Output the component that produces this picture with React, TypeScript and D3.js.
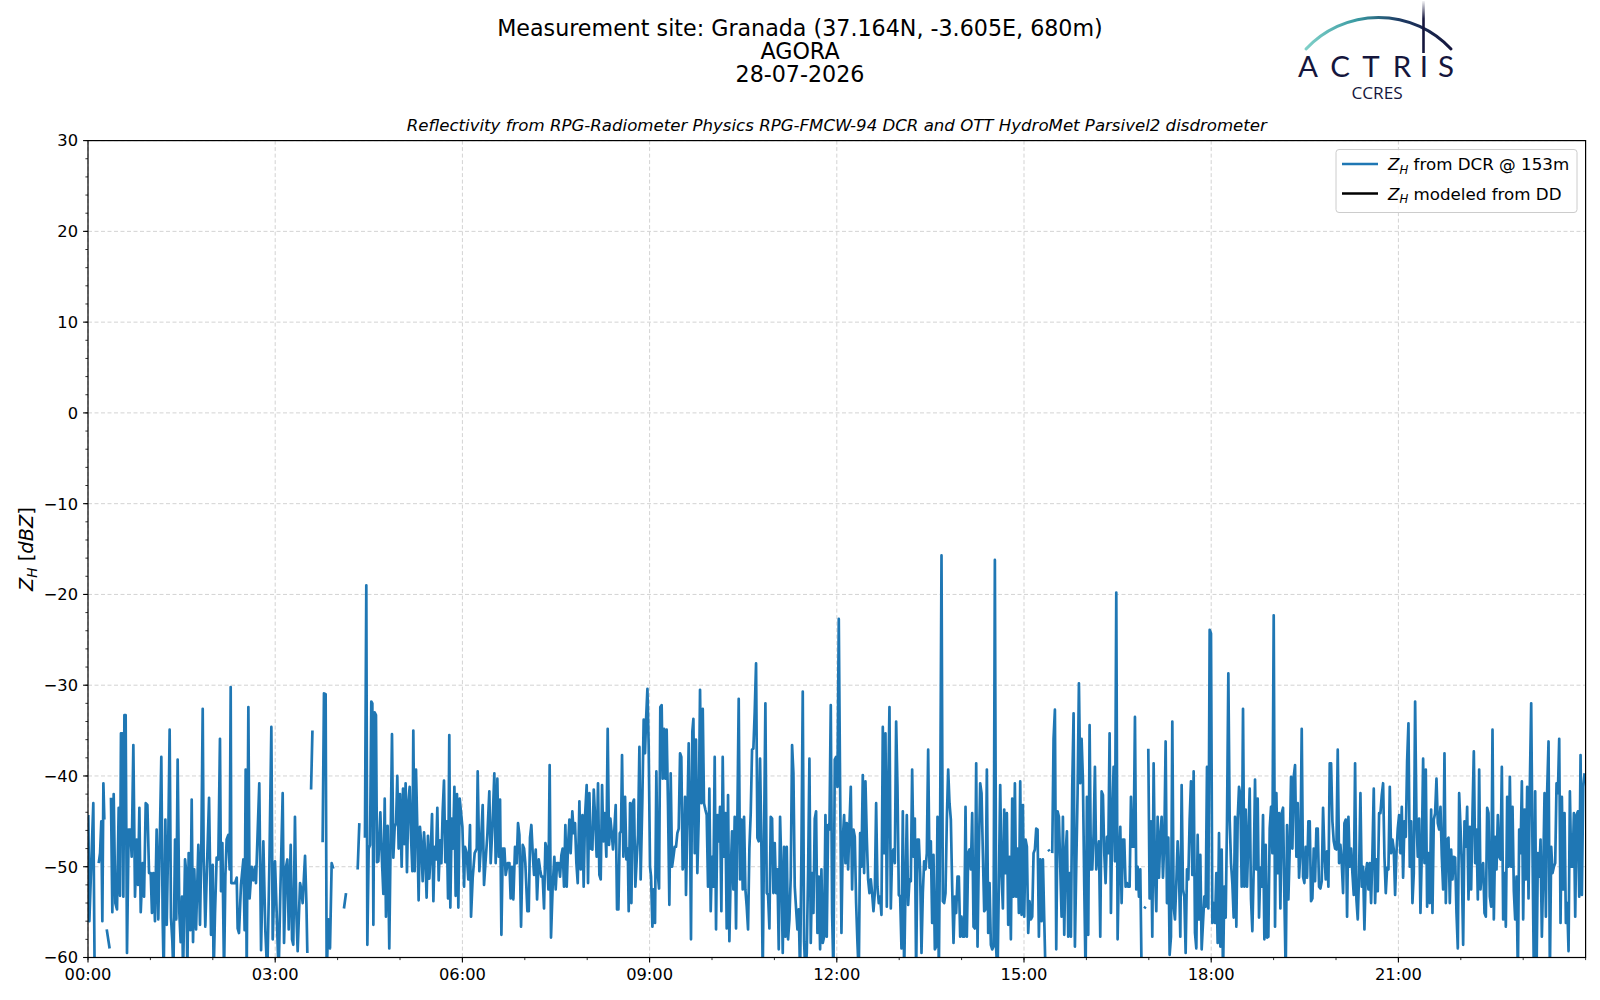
import React from "react";
import * as d3 from "d3";

// ---------- text ----------
const suptitleLines = [
  "Measurement site: Granada (37.164N, -3.605E, 680m)",
  "AGORA",
  "28-07-2026",
];
const subtitle =
  "Reflectivity from RPG-Radiometer Physics RPG-FMCW-94 DCR and OTT HydroMet Parsivel2 disdrometer";
const legendLabels = ["from DCR @ 153m", "modeled from DD"];
const legendColors = ["#1f77b4", "#000000"];

// ---------- axes ----------
const yDomain = [-60, 30];
const yMajorTicks = [-60, -50, -40, -30, -20, -10, 0, 10, 20, 30];
const yMinorTicks = d3.range(-60, 31, 2);
const xDomainMinutes = [0, 1440];
const xMajorTicks = [0, 180, 360, 540, 720, 900, 1080, 1260];
const xMajorLabels = ["00:00", "03:00", "06:00", "09:00", "12:00", "15:00", "18:00", "21:00"];
const xMinorTicks = d3.range(0, 1441, 60);

// ---------- data: Z_H from DCR (dBZ), night/morning part with explicit times (minutes) ----------
const dcrMinutesA = [
  0.3, 1.3, 5.1, 6.4, 8.0, 10.3, 11.6, 12.8, 13.8, 14.8, 15.7, 17.0, 18.0, 20.8, 21.4, 22.1, 23.4, 24.7, 26.3, 27.9,
  29.5, 30.8, 31.7, 33.0, 34.0, 35.0, 36.2, 37.5, 39.1, 40.7, 42.0, 43.6, 45.2, 46.8, 48.1, 49.4, 50.7, 52.6, 53.9, 55.5,
  57.1, 58.7, 60.3, 61.5, 62.8, 64.4, 66.0, 67.6, 69.2, 70.5, 71.8, 72.8, 74.4, 75.7, 77.3, 78.5, 79.8, 81.1, 82.1, 83.7,
  84.9, 86.2, 87.8, 89.1, 90.4, 91.4, 93.3, 94.6, 95.5, 96.8, 98.4, 99.7, 101.0, 102.2, 103.9, 106.1, 107.7, 109.0, 110.3, 111.2,
  112.8, 114.4, 116.4, 118.3, 119.9, 120.8, 122.1, 123.7, 125.3, 126.9, 127.9, 129.2, 130.8, 132.1, 133.3, 134.9, 136.2, 137.2, 137.8, 141.4,
  143.0, 143.9, 145.2, 147.1, 149.4, 150.6, 151.6, 152.6, 154.2, 155.4, 157.4, 159.0, 160.6, 161.5, 164.7, 166.4, 168.6, 170.5, 172.4, 174.4,
  176.3, 177.6, 179.8, 181.4, 183.3, 184.9, 187.2, 188.5, 190.4, 191.7, 193.0, 194.9, 196.2, 197.4, 199.0, 200.3, 201.6, 203.9, 205.1, 206.4,
  207.7, 208.7, 210.0, 210.9, 212.0, 214.5, 215.8, 217.0, 225.6, 226.9, 228.5, 229.5, 231.1, 232.7, 234.3, 235.9, 238.0, 246.1, 248.1, 250.0,
  259.3, 260.9, 263.0, 266.3, 267.6, 268.6, 269.9, 271.2, 272.4, 273.4, 274.4, 275.6, 276.9, 277.9, 279.2, 281.1, 282.4, 284.0, 285.3, 286.5,
  288.1, 289.7, 291.0, 292.3, 293.6, 294.9, 296.2, 297.4, 298.7, 300.0, 301.6, 302.9, 304.2, 305.4, 306.7, 308.0, 309.3, 310.6, 311.9, 312.8,
  314.1, 315.4, 316.7, 317.9, 319.2, 320.5, 321.8, 323.1, 324.4, 325.6, 326.9, 328.2, 329.5, 330.8, 332.1, 333.3, 334.6, 335.9, 337.2, 338.5,
  339.8, 341.0, 342.3, 343.6, 344.9, 346.2, 347.4, 348.4, 349.7, 351.0, 352.3, 353.5, 354.8, 356.1, 357.4,
  360.0, 361.6, 362.5, 364.1, 365.7, 367.3, 368.3, 369.9, 371.8, 373.8, 374.7, 376.3, 377.6, 379.5, 380.8, 382.4, 384.0, 385.9, 387.2, 389.1,
  390.7, 392.0, 393.6, 394.9, 396.2, 397.5, 398.8, 400.4, 401.6, 403.6, 405.2, 406.4, 407.7, 409.0, 410.6, 412.2, 413.5, 414.8, 416.4, 418.0,
  419.3, 420.5, 422.5, 423.8, 425.0, 426.3, 427.6, 428.9, 430.5, 431.8, 433.4, 434.7, 435.9, 437.2, 438.5, 439.8, 441.1, 442.7, 443.9, 445.2,
  446.8, 448.4, 449.7, 451.0, 452.6, 453.9, 455.2, 456.4, 457.7, 459.0, 460.3, 461.6, 462.9, 464.1, 465.7, 467.0, 468.3, 469.6, 470.9, 472.5,
  473.8, 475.4, 476.6, 477.9, 479.5, 480.8, 482.1, 483.4, 485.0, 486.3, 487.5, 489.1, 490.4, 491.7, 493.0, 494.3, 495.5, 496.8, 498.4, 499.7,
  501.0, 502.3, 503.6, 504.8, 506.1, 507.4, 508.7, 510.0, 511.3, 512.5, 513.5, 514.8, 516.4, 517.7, 519.0, 519.9, 521.2, 522.5, 523.7, 525.0,
  526.3, 527.6, 528.9, 530.2, 531.4, 533.0, 534.3, 535.6, 536.6, 537.9, 539.1, 540.4, 541.4, 542.7, 543.9, 545.2, 546.5, 547.8, 549.1, 550.3,
  551.6, 552.6, 553.9, 555.2, 556.4, 557.7, 559.0, 560.3, 561.6, 562.9, 564.1, 565.4, 566.7, 568.0, 569.3, 570.5, 571.8, 572.8, 574.1, 575.0,
  576.3, 577.6, 578.9, 579.8, 581.1, 582.1, 583.4, 584.6, 585.9, 587.2, 588.5, 589.8, 591.1, 592.3, 593.6,
];
const dcrDbzA: (number | null)[] = [
  -44.3, -56.0, -43.0, -62, null, -49.6, -48.5, -45.0, -56.0, -40.8, -44.8, null, -56.9, -59.0, null, -42.4, -55.0, -42.0, -54.0, -54.7,
  -43.5, -53.2, -35.3, -35.3, -53.3, -33.3, -33.3, -59.5, -45.9, -45.9, -48.9, -36.6, -53.3, -47.0, -52.0, -43.5, -55.0, -49.6, -53.3, -43.0,
  -43.2, -50.7, -50.7, -55.1, -50.7, -56.0, -45.9, -55.8, -46.0, -37.9, -55.8, -62, -44.8, -56.4, -46.0, -34.9, -55.6, -58.2, -62, -47.0,
  -55.8, -38.2, -55.0, -58.3, -53.3, -62, -49.2, -50.7, -62, -48.5, -57.0, -42.6, -58.3, -50.3, -56.9, -47.6, -56.4, -47.5, -32.6, -48.8,
  -56.6, -50.0, -42.4, -57.5, -49.8, -62, -55.2, -49.0, -49.2, -35.9, -52.7, -47.4, -62, -51.0, -47.0, -46.5, -50.3, -30.2, -51.8, -51.8,
  -51.2, -56.8, -57.3, -52.0, -49.2, -57.0, -39.3, -62, -32.4, -53.5, -50.0, -51.5, -50.0, -51.8, -40.8, -59.2, -47.2, -57.0, -62, -49.8,
  -34.6, -58.0, -49.4, -55.0, -62, -53.0, -41.9, -58.4, -50.0, -49.2, -56.9, -47.6, -58.0, -58.6, -44.5, -55.0, -59.3, -51.8, -52.5, -54.0,
  -51.0, -48.8, -54.0, -59.5, null, -41.5, -35.0, null, -47.3, -30.9, -31.0, -62, -55.8, -59.0, -49.6, -50.2, null, -54.6, -52.9, null,
  -50.3, -45.2, null, -46.8, -19.0, -58.6, -48.0, -47.6, -31.8, -32.0, -56.4, -33.0, -33.3, -49.5, -49.4, -44.0, -48.6, -53.0, -42.5, -55.5,
  -45.5, -59.0, -47.0, -35.4, -49.0, -45.6, -45.2, -40.0, -48.0, -42.0, -50.0, -41.4, -47.5, -40.8, -50.6, -43.0, -41.2, -46.7, -50.5, -35.0,
  -50.5, -39.3, -46.0, -53.7, -45.6, -47.5, -51.6, -46.2, -49.0, -53.4, -46.6, -51.3, -48.5, -44.2, -53.8, -47.8, -49.2, -43.5, -51.5, -47.1,
  -49.6, -44.0, -40.5, -49.5, -45.0, -53.5, -35.5, -54.5, -44.7, -48.0, -41.2, -53.2, -42.0, -54.5, -42.5,
  -45.6, -52.2, -47.8, -48.5, -51.4, -45.4, -55.5, -51.2, -48.5, -48.0, -39.5, -50.5, -48.1, -43.2, -52.0, -49.2, -46.5, -41.7, -49.6, -45.0,
  -39.7, -49.6, -40.3, -48.9, -42.6, -57.5, -48.0, -48.0, -50.9, -49.6, -49.6, -53.5, -50.0, -53.6, -47.8, -49.6, -45.2, -46.5, -56.6, -47.6,
  -48.0, -49.6, -54.9, -54.9, -46.8, -45.4, -48.5, -50.9, -48.1, -53.6, -49.2, -50.3, -51.1, -51.1, -54.6, -47.4, -48.0, -52.5, -38.8, -57.8,
  -52.2, -48.9, -52.5, -49.6, -49.6, -51.1, -48.7, -48.0, -52.2, -45.4, -52.2, -47.6, -44.8, -48.5, -43.9, -46.3, -45.2, -49.6, -51.8, -42.8,
  -50.3, -44.3, -52.2, -44.5, -41.0, -51.8, -41.9, -48.0, -48.1, -41.5, -44.3, -48.9, -40.8, -50.9, -51.4, -41.0, -47.2, -44.1, -48.9, -34.8,
  -47.6, -44.7, -46.3, -48.1, -45.9, -43.2, -54.7, -54.7, -46.3, -46.1, -37.7, -48.9, -42.3, -49.2, -48.0, -54.9, -43.0, -54.0, -43.0, -42.6,
  -52.2, -49.2, -46.5, -36.8, -51.4, -42.8, -33.8, -37.5, -33.8, -30.4, -36.6, -50.0, -51.1, -56.6, -52.5, -56.2, -39.5, -50.7, -52.4, -32.4,
  -32.2, -40.3, -34.8, -40.3, -34.9, -43.2, -54.2, -39.7, -50.0, -48.9, -47.8, -47.8, -46.3, -45.8, -37.5, -37.9, -50.3, -49.6, -42.3, -53.1,
  -44.7, -36.4, -45.9, -58.0, -35.1, -33.7, -48.5, -36.0, -50.7, -44.8, -30.5, -43.0, -32.6, -43.0, -43.7,
];

// ---------- data: Z_H from DCR (dBZ), rest of the day on the regular sampling grid ----------
const dcrRegularStart = 594.9; // minutes
const dcrRegularEnd = 1439.0; // minutes
const dcrDbzLateMorning: (number | null)[] = [
  -44.3, -52.2, -41.4, -54.9, -48.9, -52.2, -37.9, -56.9, -44.3, -47.2, -43.4, -54.9, -37.9, -48.9, -44.1, -56.8, -42.1, -58.2, -50.7, -46.1,
  -52.5, -44.5, -56.8, -44.5, -31.5, -51.4, -44.8, -52.5, -44.5, -52.5, -54.4, -56.9, -48.0, -44.1, -37.1, -37.0, -32.9, -27.6, -46.8, -47.2,
  -38.1, -47.8, -62, -46.7, -32.0, -52.9, -53.1, -56.8, -44.5, -44.7, -52.9, -47.4, -52.9, -50.3, -59.1, -44.5, -50.3, -59.5, -47.8, -57.7,
  -47.8, -58.0, -55.8, -51.1, -36.6, -39.7, -52.2, -54.6, -56.9, -54.7, -62, -48.5, -30.7, -58.2, -62, -59.5, -50.7, -38.1, -58.4, -50.7,
  -55.1, -44.7, -43.9, -57.3, -51.1, -59.1, -50.3, -58.4, -57.7, -44.3, -57.7, -45.4, -45.9, -32.2, -55.1, -62, -38.2, -37.9, -41.2, -22.7,
  -41.2, -57.3, -47.0, -44.3, -49.6, -45.2, -50.3, -45.4, -41.2, -52.5, -45.9, -46.7, -54.0, -58.4, -62, -46.3, -50.0, -39.9, -50.7, -40.6,
  -46.8, -51.4, -52.9, -51.4, -52.9, -54.9, -52.9, -43.0, -52.2, -54.0, -53.3, -55.3, -34.6, -48.5, -35.3, -54.4, -41.9, -32.4, -54.6, -48.5,
  -48.1, -49.6, -34.0, -41.2, -53.1,
];
const dcrDbzAfternoon: (number | null)[] = [
  -53.3, -59.0, -43.9, -62, -52.2, -44.3, -54.2, -51.4, -51.6, -39.3, -48.9, -44.7, -62, -47.0, -47.0, -50.7, -59.5, -52.9, -49.4, -50.3,
  -48.5, -37.1, -50.1, -47.2, -56.2, -48.7, -59.1, -58.8, -44.5, -62, -44.5, -15.7, -53.8, -54.0, -52.9, -44.8, -39.3, -43.0, -44.8, -52.2,
  -58.4, -53.3, -55.1, -51.1, -51.1, -57.7, -55.5, -57.7, -57.7, -43.4, -57.7, -48.5, -48.1, -50.3, -44.1, -56.6, -56.8, -38.6, -58.8, -48.5,
  -40.8, -41.9, -48.5, -54.9, -54.7, -39.3, -57.3, -51.8, -58.6, -59.1, -58.8, -16.2, -59.1, -62, -51.8, -41.0, -50.7, -54.6, -43.7, -50.7,
  -44.1, -56.4, -48.9, -58.0, -42.5, -53.3, -40.8, -53.3, -48.0, -55.1, -40.6, -55.3, -43.2, -55.5, -47.0, -47.8, -57.3, -53.8, -55.8, -55.5,
  -48.5, -48.1, -45.8, -45.9, -57.7, -49.2, -56.0, -49.2, -55.8, -62, null, -48.1, -48.3, null, -48.5, -35.9, -32.7, -59.1, -43.9, -44.5,
  -50.0, -55.5, -44.5, -57.5, -48.5, -46.1, -57.7, -50.7, -57.7, -41.2, -33.1, -58.8, -50.0, -41.9, -29.8, -40.8, -35.9, -40.4, -52.2, -62,
  -42.3, -57.5, -34.4, -50.3, -50.3, -46.3, -39.0, -50.3, -48.5, -47.2, -57.7, -41.7, -42.1, -48.5, -51.8, -46.7, -48.5, -35.3, -55.1, -44.8,
  -39.0, -49.4, -19.8, -58.0, -49.6, -45.6, -54.0, -47.0, -47.0, -52.2, -51.8, -52.2, -52.2, -42.3, -47.8, -47.8, -33.5, -52.5, -50.0, -53.3,
  -50.3, -62, null, -54.6, -54.4, null, -37.0, -53.5, -45.0, -57.7, -38.6, -50.7, -54.9, -44.5, -51.2, -46.7, -44.5, -51.2, -47.2, -36.2,
  -54.0, -46.8, -59.7, -57.7, -34.0, -54.4, -55.8, -51.8, -47.2, -50.7, -57.7, -41.0, -52.5, -53.3, -59.5, -50.3, -51.4, -44.8, -40.6, -50.9,
  -39.5, -57.3, -59.0, -46.5, -55.8, -48.7, -59.1, -56.2, -53.3, -54.4, -39.0, -54.6, -23.9, -24.3, -56.2, -54.0, -56.2, -50.7, -58.4, -46.3,
  -58.8, -48.1, -62, -52.2, -55.6, -45.0, -28.7, -44.8, -49.6, -51.8, -55.6, -44.5, -56.6, -44.8, -41.2,
];
const dcrDbzEvening: (number | null)[] = [
  -42.1, -52.2, -32.6, -52.2, -43.7, -52.2, -46.8, -41.4, -53.6, -57.1, -50.3, -40.4, -50.3, -42.5, -55.6, -50.1, -52.2, -44.3, -58.0, -47.6,
  -57.8, -57.7, -45.8, -43.4, -48.5, -22.3, -56.6, -41.9, -50.7, -44.1, -54.6, -44.1, -43.5, -53.3, -62, -45.4, -53.6, -48.1, -40.1, -48.0,
  -40.1, -38.8, -48.9, -43.0, -51.2, -48.5, -34.8, -51.1, -51.8, -47.8, -51.2, -45.0, -45.0, -53.8, -53.5, -48.0, -51.6, -45.8, -45.8, -52.2,
  -52.4, -51.6, -43.5, -48.5, -51.4, -48.3, -52.2, -38.6, -38.6, -45.0, -47.2, -48.0, -48.1, -37.1, -49.6, -47.6, -49.6, -52.9, -45.2, -44.8,
  -55.5, -44.5, -50.0, -48.0, -50.7, -53.1, -38.6, -53.6, -55.8, -50.7, -41.9, -52.2, -50.0, -56.9, -50.7, -49.6, -52.5, -49.6, -54.0, -48.5,
  -41.4, -54.0, -49.2, -52.7, -44.1, -44.1, -42.1, -40.8, -48.9, -52.9, -50.1, -50.3, -41.2, -48.5, -47.0, -48.1, -53.1, -48.5, -45.8, -44.3,
  -48.5, -43.4, -51.2, -45.0, -46.7, -38.4, -34.2, -50.0, -45.0, -54.0, -50.7, -31.8, -44.8, -48.9, -44.7, -55.1, -48.5, -38.1, -49.6, -39.3,
  -54.4, -48.5, -54.0, -43.7, -55.1, -44.8, -44.1, -40.3, -45.2, -45.9, -43.4, -48.9, -52.5, -37.5, -54.0, -47.0, -46.8, -54.0, -48.1, -51.4,
  -48.9, -49.0, -55.1, -59.0, -41.9, -45.6, -50.0, -58.6, -45.0, -47.8, -43.4, -53.6, -45.6, -52.5, -44.1, -37.3, -49.6, -45.9, -53.6, -39.3,
  -52.5, -50.3, -49.6, -55.1, -55.5, -43.5, -44.1, -53.3, -54.4, -34.9, -55.8, -46.7, -50.3, -44.3, -48.9, -49.2, -39.0, -55.8, -50.7, -56.6,
  -42.3, -50.0, -40.1, -50.0, -43.4, -52.7, -55.8, -51.1, -62, -45.9, -48.5, -40.6, -55.8, -43.7, -51.4, -41.2, -53.5, -40.8, -32.0, -48.5,
  -62, -41.7, -62, -48.5, -51.1, -47.0, -57.7, -50.7, -41.9, -55.5, -41.5, -36.2, -62, -47.8, -50.7, -50.0, -49.6, -40.8, -41.9, -35.9,
  -56.2, -42.3, -52.5, -44.1, -56.2, -54.0, -59.3, -41.7, -50.0, -50.0, -44.1, -55.5, -44.3, -43.9, -53.3, -37.7, -53.1, -41.2, -39.7,
];

// ---------- layout ----------
const W = 1600;
const H = 1000;
const PLOT = { left: 88, right: 1585.6, top: 140.6, bottom: 957.5 };
const FONT = "'DejaVu Sans', 'Liberation Sans', sans-serif";
const LINE_BLUE = "#1f77b4";

type Pt = { t: number; v: number | null };

function buildSeries(): Pt[] {
  const pts: Pt[] = dcrMinutesA.map((t, i) => ({ t, v: dcrDbzA[i] }));
  const regular = [...dcrDbzLateMorning, ...dcrDbzAfternoon, ...dcrDbzEvening];
  const times = d3.scaleLinear().domain([0, regular.length - 1]).range([dcrRegularStart, dcrRegularEnd]);
  regular.forEach((v, i) => pts.push({ t: times(i), v }));
  return pts;
}

function ZH({ size }: { size: number }) {
  return (
    <>
      <tspan fontStyle="italic">Z</tspan>
      <tspan fontStyle="italic" fontSize={size * 0.7} dy={size * 0.22}>
        H
      </tspan>
      <tspan dy={-size * 0.22}> </tspan>
    </>
  );
}

export default function App() {
  const x = d3.scaleLinear().domain(xDomainMinutes).range([PLOT.left, PLOT.right]);
  const y = d3.scaleLinear().domain(yDomain).range([PLOT.bottom, PLOT.top]);
  const series = buildSeries();
  const line = d3
    .line<Pt>()
    .defined((d) => d.v !== null)
    .x((d) => x(d.t))
    .y((d) => y(d.v as number));

  const cx = (PLOT.left + PLOT.right) / 2;
  const cy = (PLOT.top + PLOT.bottom) / 2;
  const tickFs = 16.3;

  const actrisLetters = ["A", "C", "T", "R", "I", "S"];
  const actrisX = [1308, 1340, 1371, 1402, 1424, 1446];

  return (
    <svg
      width={W}
      height={H}
      viewBox={`0 0 ${W} ${H}`}
      style={{ position: "fixed", left: 0, top: 0, background: "#fff" }}
      fontFamily={FONT}
    >
      <defs>
        <clipPath id="plotClip">
          <rect x={PLOT.left} y={PLOT.top} width={PLOT.right - PLOT.left} height={PLOT.bottom - PLOT.top} />
        </clipPath>
        <linearGradient id="arcGrad" gradientUnits="userSpaceOnUse" x1={1306} y1={0} x2={1451} y2={0}>
          <stop offset="0" stopColor="#7fd0c8" />
          <stop offset="0.35" stopColor="#3a9aa2" />
          <stop offset="0.65" stopColor="#1d3a63" />
          <stop offset="1" stopColor="#15163d" />
        </linearGradient>
        <linearGradient id="vGrad" gradientUnits="userSpaceOnUse" x1={0} y1={0} x2={0} y2={54}>
          <stop offset="0" stopColor="#15163d" stopOpacity="0" />
          <stop offset="0.35" stopColor="#15163d" stopOpacity="1" />
          <stop offset="1" stopColor="#15163d" stopOpacity="1" />
        </linearGradient>
      </defs>
      <rect x={0} y={0} width={W} height={H} fill="#fff" />

      {/* suptitle */}
      {suptitleLines.map((s, i) => (
        <text key={s} x={800} y={36 + i * 23.2} textAnchor="middle" fontSize={22.2} fill="#000">
          {s}
        </text>
      ))}

      {/* logo */}
      <g>
        <path d="M1306,49 A99,99 0 0,1 1451,49" fill="none" stroke="url(#arcGrad)" strokeWidth={3} strokeLinecap="round" />
        <line x1={1423.5} y1={1} x2={1423.5} y2={53} stroke="url(#vGrad)" strokeWidth={2.6} />
        {actrisLetters.map((l, i) => (
          <text key={i} x={actrisX[i]} y={77} textAnchor="middle" fontSize={29.5} fill="#15163d" fontFamily="Lato, 'DejaVu Sans', sans-serif">
            {l}
          </text>
        ))}
        <text x={1377} y={98.5} textAnchor="middle" fontSize={17.2} fill="#15163d" fontFamily="'Open Sans', 'DejaVu Sans', sans-serif">
          CCRES
        </text>
      </g>

      {/* subtitle */}
      <text x={cx} y={131} textAnchor="middle" fontSize={16.6} fontStyle="italic" fill="#000">
        {subtitle}
      </text>

      {/* grid */}
      <g stroke="#d3d3d3" strokeWidth={1} strokeDasharray="4,2.5">
        {xMajorTicks.map((t) => (
          <line key={"gx" + t} x1={x(t)} x2={x(t)} y1={PLOT.top} y2={PLOT.bottom} />
        ))}
        {yMajorTicks.map((t) => (
          <line key={"gy" + t} x1={PLOT.left} x2={PLOT.right} y1={y(t)} y2={y(t)} />
        ))}
      </g>

      {/* data */}
      <g clipPath="url(#plotClip)">
        <path d={line(series) || ""} fill="none" stroke={LINE_BLUE} strokeWidth={2.7} strokeLinejoin="round" strokeLinecap="butt" />
      </g>

      {/* frame */}
      <rect
        x={PLOT.left}
        y={PLOT.top}
        width={PLOT.right - PLOT.left}
        height={PLOT.bottom - PLOT.top}
        fill="none"
        stroke="#000"
        strokeWidth={1.2}
      />

      {/* ticks */}
      <g stroke="#000">
        {yMinorTicks.map((t) => (
          <line key={"ym" + t} x1={PLOT.left - 2.6} x2={PLOT.left} y1={y(t)} y2={y(t)} strokeWidth={0.8} />
        ))}
        {yMajorTicks.map((t) => (
          <line key={"yM" + t} x1={PLOT.left - 4.9} x2={PLOT.left} y1={y(t)} y2={y(t)} strokeWidth={1.1} />
        ))}
        {xMinorTicks.map((t) => (
          <line key={"xm" + t} x1={x(t)} x2={x(t)} y1={PLOT.bottom} y2={PLOT.bottom + 2.6} strokeWidth={0.8} />
        ))}
        {xMajorTicks.map((t) => (
          <line key={"xM" + t} x1={x(t)} x2={x(t)} y1={PLOT.bottom} y2={PLOT.bottom + 4.9} strokeWidth={1.1} />
        ))}
      </g>
      <g fontSize={tickFs} fill="#000">
        {yMajorTicks.map((t) => (
          <text key={"yl" + t} x={PLOT.left - 10} y={y(t)} dy="0.36em" textAnchor="end">
            {t < 0 ? "\u2212" + Math.abs(t) : String(t)}
          </text>
        ))}
        {xMajorTicks.map((t, i) => (
          <text key={"xl" + t} x={x(t)} y={PLOT.bottom + 22.5} textAnchor="middle">
            {xMajorLabels[i]}
          </text>
        ))}
      </g>

      {/* y label */}
      <text transform={`translate(33,${cy}) rotate(-90)`} textAnchor="middle" fontSize={19.4} fill="#000">
        <ZH size={19.4} />
        <tspan>[</tspan>
        <tspan fontStyle="italic">dBZ</tspan>
        <tspan>]</tspan>
      </text>

      {/* legend */}
      <g>
        <rect x={1336} y={149.5} width={241} height={63} rx={3} ry={3} fill="#fff" fillOpacity={0.8} stroke="#cccccc" strokeWidth={1} />
        {legendLabels.map((lab, i) => {
          const ly = 164 + i * 29.5;
          return (
            <g key={lab}>
              <line x1={1342} x2={1378} y1={ly} y2={ly} stroke={legendColors[i]} strokeWidth={2.7} />
              <text x={1388} y={ly} dy="0.36em" fontSize={16.7} fill="#000">
                <ZH size={16.7} />
                <tspan>{lab}</tspan>
              </text>
            </g>
          );
        })}
      </g>
    </svg>
  );
}
